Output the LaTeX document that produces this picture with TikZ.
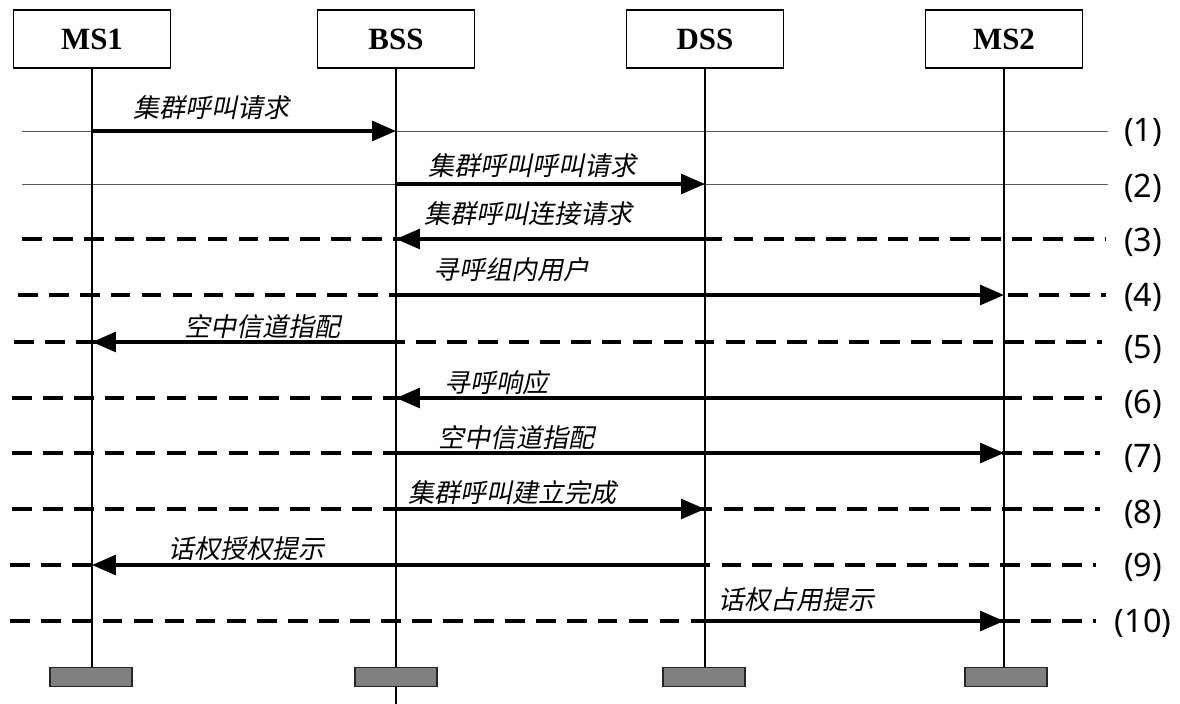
\documentclass[tikz,border=0pt]{standalone}
\usepackage{fontspec}
\setmainfont{Liberation Serif}
\newfontfamily\cjkfont[FakeSlant=0.2]{Noto Sans CJK SC}
\newfontfamily\numfont{Noto Sans}
\usetikzlibrary{arrows.meta,positioning}
\tikzset{
  >={Triangle[length=17pt,width=14pt]},
  ent/.style={draw,line width=1.1pt,minimum width=111.7pt,minimum height=41.3pt,inner sep=0pt,font=\bfseries\fontsize{22}{24}\selectfont},
  endbar/.style={draw=black!85,line width=0.8pt,fill=black!50,minimum width=58.3pt,minimum height=13.5pt,inner sep=0pt},
  lifeline/.style={line width=1.4pt},
  thinrule/.style={line width=0.7pt,draw=black!65},
  dashrule/.style={line width=2.3pt,dash pattern=on 14pt off 8pt},
  msg/.style={->,line width=2.6pt},
  lbl/.style={anchor=west,inner sep=0pt,font=\cjkfont\fontsize{18.5}{20}\selectfont},
  num/.style={inner sep=0pt,font=\numfont\fontsize{23}{25}\selectfont}
}
\begin{document}
\begin{tikzpicture}[x=0.025cm,y=-0.025cm]
  \useasboundingbox (0,0) rectangle (1180,704);
  % entities
  \node[ent] (ms1) at (92,39) {MS1};
  \node[ent] (bss) at (396,39) {BSS};
  \node[ent] (dss) at (705,39) {DSS};
  \node[ent] (ms2) at (1004,39) {MS2};

  % row numbers
  \node[num] (r1) at (1143,133) {(1)};
  \node[num] (r2) at (1143,188) {(2)};
  \node[num] (r3) at (1143,242) {(3)};
  \node[num] (r4) at (1143,297) {(4)};
  \node[num] (r5) at (1143,350) {(5)};
  \node[num] (r6) at (1143,404) {(6)};
  \node[num] (r7) at (1143,459) {(7)};
  \node[num] (r8) at (1143,514) {(8)};
  \node[num] (r9) at (1143,567) {(9)};
  \node[num] (r10) at (1143,623) {(10)};

  % rules under the messages
  \coordinate (w1) at (22,131);  \coordinate (e1) at (1108,131);
  \coordinate (w2) at (22,184);  \coordinate (e2) at (1108,184);
  \coordinate (w3) at (22,239);  \coordinate (e3) at (1106,239);
  \coordinate (w4) at (18,295);  \coordinate (e4) at (1106,295);
  \coordinate (w5) at (14,342);  \coordinate (e5) at (1102,342);
  \coordinate (w6) at (12,398);  \coordinate (e6) at (1102,398);
  \coordinate (w7) at (12,453);  \coordinate (e7) at (1100,453);
  \coordinate (w8) at (12,509);  \coordinate (e8) at (1100,509);
  \coordinate (w9) at (10,565);  \coordinate (e9) at (1096,565);
  \coordinate (w10) at (10,621); \coordinate (e10) at (1096,621);
  \draw[thinrule] (w1) -- (e1);
  \draw[thinrule] (w2) -- (e2);
  \draw[dashrule] (w3) -- (e3);
  \draw[dashrule] (w4) -- (e4);
  \draw[dashrule] (w5) -- (e5);
  \draw[dashrule] (w6) -- (e6);
  \draw[dashrule] (w7) -- (e7);
  \draw[dashrule] (w8) -- (e8);
  \draw[dashrule] (w9) -- (e9);
  \draw[dashrule] (w10) -- (e10);

  % lifelines and end bars
  \coordinate (foot) at (0,668);
  \coordinate (bssfoot) at (396,704);
  \draw[lifeline] (ms1.south) -- (ms1.south |- foot);
  \draw[lifeline] (bss.south) -- (bssfoot);
  \draw[lifeline] (dss.south) -- (dss.south |- foot);
  \draw[lifeline] (ms2.south) -- (ms2.south |- foot);
  \node[endbar] (ms1end) at (91,677) {};
  \node[endbar] (bssend) at (396,677) {};
  \node[endbar] (dssend) at (704,677) {};
  \node[endbar] (ms2end) at (1006,677) {};

  % messages
  \draw[msg] (ms1 |- w1) -- (bss |- w1);
  \draw[msg] (bss |- w2) -- (dss |- w2);
  \draw[msg] (dss |- w3) -- (bss |- w3);
  \draw[msg] (bss |- w4) -- (ms2 |- w4);
  \draw[msg] (bss |- w5) -- (ms1 |- w5);
  \draw[msg] (ms2 |- w6) -- (bss |- w6);
  \draw[msg] (bss |- w7) -- (ms2 |- w7);
  \draw[msg] (bss |- w8) -- (dss |- w8);
  \draw[msg] (dss |- w9) -- (ms1 |- w9);
  \draw[msg] (dss |- w10) -- (ms2 |- w10);

  % message labels
  \node[lbl] (t1) at (133,108) {集群呼叫请求};
  \node[lbl] (t2) at (428,166) {集群呼叫呼叫请求};
  \node[lbl] (t3) at (424,214) {集群呼叫连接请求};
  \node[lbl] (t4) at (433,270) {寻呼组内用户};
  \node[lbl] (t5) at (184,327) {空中信道指配};
  \node[lbl] (t6) at (444,383) {寻呼响应};
  \node[lbl] (t7) at (438,438) {空中信道指配};
  \node[lbl] (t8) at (408,493) {集群呼叫建立完成};
  \node[lbl] (t9) at (168,549) {话权授权提示};
  \node[lbl] (t10) at (718,600) {话权占用提示};
\end{tikzpicture}
\end{document}
